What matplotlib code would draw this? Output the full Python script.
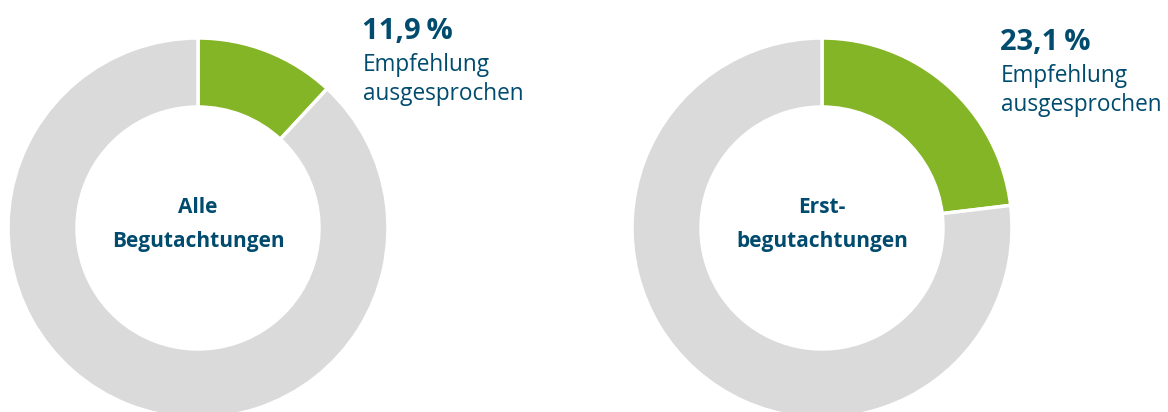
import matplotlib.pyplot as plt

# shares of "Empfehlung ausgesprochen"
shares = [11.9, 23.1]
pct_labels = ["11,9\u2009%", "23,1\u2009%"]
center_top = ["Alle", "Erst-"]
center_bottom = ["Begutachtungen", "begutachtungen"]

green = "#84b526"
grey = "#dadada"
navy = "#004b6e"

plt.rcParams["font.family"] = ["Open Sans", "DejaVu Sans"]

fig = plt.figure(figsize=(11.68, 4.12), dpi=100)
ax = fig.add_axes([0, 0, 1, 1])

centers = [(198, 184), (822, 184)]
label_pos = [(362, 373), (1000, 362)]

for i, share in enumerate(shares):
    cx, cy = centers[i]
    lx, ly = label_pos[i]
    ax.pie([share, 100 - share], colors=[green, grey], startangle=90, counterclock=False,
           center=(cx, cy), radius=190,
           wedgeprops=dict(width=69, edgecolor="white", linewidth=2.5))
    ax.text(cx, cy + 15, center_top[i], ha="center", va="baseline", fontsize=15,
            fontweight="bold", color=navy)
    ax.text(cx, cy - 19, center_bottom[i], ha="center", va="baseline", fontsize=15,
            fontweight="bold", color=navy)
    ax.text(lx, ly, pct_labels[i], ha="left", va="baseline", fontsize=21,
            fontweight="bold", color=navy)
    ax.text(lx + 1, ly - 32, "Empfehlung", ha="left", va="baseline", fontsize=16.3, color=navy)
    ax.text(lx + 1, ly - 61, "ausgesprochen", ha="left", va="baseline", fontsize=16.3, color=navy)

ax.set_xlim(0, 1168)
ax.set_ylim(0, 412)
ax.set_aspect("equal")
ax.axis("off")
fig.savefig("out.png", dpi=100)
